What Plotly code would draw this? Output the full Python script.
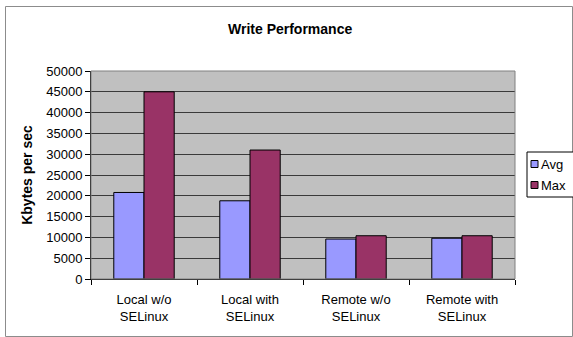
import plotly.graph_objects as go

categories = ["Local w/o<br>SELinux", "Local with<br>SELinux", "Remote w/o<br>SELinux", "Remote with<br>SELinux"]
series_names = ["Avg", "Max"]
avg_values = [20800, 18800, 9600, 9800]
max_values = [45000, 31000, 10400, 10400]
y_ticks = [0, 5000, 10000, 15000, 20000, 25000, 30000, 35000, 40000, 45000, 50000]
colors = ["#9999FF", "#993366"]

W, H = 573, 337
L, R, T, B = 91, 58, 71, 58
pw, ph = W - L - R, H - T - B

def px(x):
    return (x - L) / pw

def py(y):
    return (H - B - y) / ph

font = "Liberation Sans, Arial, sans-serif"

fig = go.Figure()
for name, vals, col in zip(series_names, [avg_values, max_values], colors):
    fig.add_trace(go.Bar(name=name, x=categories, y=vals,
                         marker=dict(color=col, line=dict(color="#000000", width=1))))

shapes = [
    dict(type="rect", xref="paper", yref="paper", x0=0, x1=1, y0=0, y1=1,
         line=dict(color="#808080", width=1), fillcolor="rgba(0,0,0,0)", layer="above"),
    dict(type="rect", xref="paper", yref="paper", x0=px(5.5), x1=px(572.5), y0=py(336.5), y1=py(6.5),
         line=dict(color="#8C8C8C", width=1), fillcolor="rgba(0,0,0,0)"),
    dict(type="rect", xref="paper", yref="paper", x0=px(527), x1=px(590), y0=py(197), y1=py(152),
         line=dict(color="#000000", width=1), fillcolor="white"),
]
annotations = [
    dict(text="<b>Write Performance</b>", x=px(290), y=py(29), xref="paper", yref="paper",
         showarrow=False, font=dict(family=font, size=14), xanchor="center", yanchor="middle"),
]
legend_rows = [164, 185]
for name, col, yc in zip(series_names, colors, legend_rows):
    shapes.append(dict(type="rect", xref="paper", yref="paper",
                       x0=px(531), x1=px(538), y0=py(yc + 3.5), y1=py(yc - 3.5),
                       line=dict(color="#000000", width=1), fillcolor=col))
    annotations.append(dict(text=name, x=px(539), y=py(yc), xref="paper", yref="paper",
                            showarrow=False, xanchor="left", yanchor="middle",
                            font=dict(family=font, size=13, color="black")))

fig.update_layout(
    width=W, height=H,
    margin=dict(l=L, r=R, t=T, b=B),
    paper_bgcolor="white",
    plot_bgcolor="#C0C0C0",
    barmode="group",
    bargap=0.43,
    bargroupgap=0,
    font=dict(family=font, size=13, color="black"),
    showlegend=False,
    xaxis=dict(type="category", ticks="outside", tickson="boundaries", ticklen=5,
               tickcolor="#000000", showline=True, linecolor="#000000",
               showgrid=False, tickfont=dict(family=font, size=13), ticklabelstandoff=8),
    yaxis=dict(range=[0, 50000], tickvals=y_ticks, tickformat="d", ticks="outside", ticklen=5,
               tickcolor="#000000", showline=True, linecolor="#000000",
               showgrid=True, gridcolor="#3A3A3A", gridwidth=1,
               zeroline=False, tickfont=dict(family=font, size=13),
               title=dict(text="<b>Kbytes per sec</b>", font=dict(family=font, size=14), standoff=10)),
    annotations=annotations,
    shapes=shapes,
)

fig.write_html("out.html")
